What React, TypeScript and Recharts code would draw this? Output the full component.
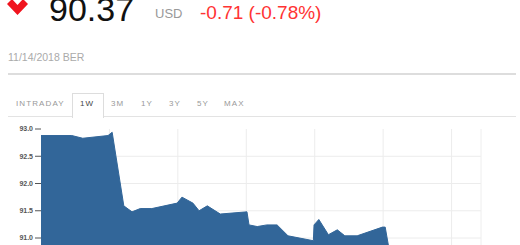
import { AreaChart, Area, XAxis, YAxis, CartesianGrid } from 'recharts';

// position in trading days (gridlines at day boundaries) and price
const days = [0, 0.45, 0.61, 0.98, 1.04, 1.21, 1.33, 1.45, 1.62, 1.99, 2.06, 2.22, 2.31, 2.43, 2.62, 3.01, 3.04, 3.16, 3.3, 3.45, 3.61, 3.98, 3.99, 4.06, 4.2, 4.33, 4.44, 4.62, 4.99, 5.03, 5.1, 5.4, 5.8, 6.1, 6.43]
const prices = [92.88, 92.88, 92.83, 92.88, 92.94, 91.59, 91.48, 91.54, 91.54, 91.64, 91.75, 91.64, 91.5, 91.59, 91.44, 91.48, 91.24, 91.21, 91.24, 91.24, 91.04, 90.95, 91.24, 91.34, 91.06, 91.15, 91.04, 91.04, 91.2, 91.2, 90.7, 90.55, 90.5, 90.45, 90.37]

const priceTicks = [93, 92.5, 92, 91.5, 91, 90.5, 90]
const gridPrices = [92.5, 92, 91.5, 91, 90.5]
const dayLines = [1, 2, 3, 4, 5, 6]
const pctTicks = [0, -2]
const basePrice = 92.91

const tabs = ['INTRADAY', '1W', '3M', '1Y', '3Y', '5Y', 'MAX']
const tabLeft = [16, 80, 111, 141, 169, 197, 224]

const data = days.map((d, i) => ({ day: d, price: prices[i] }))

const App = () => {
    return (
        <div style={{ position: 'absolute', left: 0, top: 0, width: 520, height: 245, overflow: 'hidden', background: '#fff', fontFamily: '"Liberation Sans", Arial, sans-serif' }}>
            <svg width={30} height={16} style={{ position: 'absolute', left: 0, top: 0 }}>
                <polygon points="7,4 12,-1 17.5,5 23,-1 28,4 17.5,15" fill="#f0141e" />
            </svg>
            <div style={{ position: 'absolute', left: 49, top: -11, fontSize: 34, color: '#111', lineHeight: '40px' }}>90.37</div>
            <div style={{ position: 'absolute', left: 155, top: 6, fontSize: 13, color: '#999', lineHeight: '16px' }}>USD</div>
            <div style={{ position: 'absolute', left: 200, top: 2, fontSize: 19, color: '#f33', lineHeight: '22px' }}>-0.71 (-0.78%)</div>
            <div style={{ position: 'absolute', left: 8, top: 51, fontSize: 10.5, color: '#aaa', lineHeight: '13px' }}>11/14/2018 BER</div>
            <div style={{ position: 'absolute', left: 8, top: 73, width: 508, height: 2, background: '#ddd' }} />

            <div style={{ position: 'absolute', left: 8, top: 116, width: 508, height: 1, background: '#e3e3e3' }} />
            <div style={{ position: 'absolute', left: 72, top: 93, width: 30, height: 24, border: '1px solid #ddd', borderBottom: 'none', background: '#fff' }} />
            {tabs.map((t, i) => (
                <div key={t} style={{ position: 'absolute', left: tabLeft[i], top: 98, fontSize: 8, letterSpacing: 1.1, lineHeight: '11px', color: t === '1W' ? '#444' : '#999' }}>{t}</div>
            ))}

            <div style={{ position: 'absolute', left: 0, top: 119 }}>
                <AreaChart width={520} height={200} data={data} margin={{ top: 10, right: 0, left: 0, bottom: 26.5 }}>
                    <XAxis dataKey="day" type="number" domain={[0, 6.43]} ticks={dayLines} hide />
                    <YAxis yAxisId="price" orientation="left" width={41} domain={[90, 93]} ticks={priceTicks} tickFormatter={(v: number) => v.toFixed(1)}
                        axisLine={false} tickLine={{ stroke: '#555' }} tickSize={6} tick={{ fontSize: 7, fill: '#555', fontWeight: 'bold' }} interval={0} />
                    <YAxis yAxisId="pct" orientation="right" width={39} domain={[(90 / basePrice - 1) * 100, (93 / basePrice - 1) * 100]} ticks={pctTicks}
                        tickFormatter={(v: number) => `${v}%`} axisLine={{ stroke: '#eee' }} tickLine={{ stroke: '#555' }} tickSize={5}
                        tick={{ fontSize: 7, fill: '#555' }} interval={0} />
                    <CartesianGrid yAxisId="price" stroke="#ececec" horizontalValues={gridPrices} verticalValues={dayLines} />
                    <Area yAxisId="price" type="linear" dataKey="price" stroke="#326699" strokeWidth={1} fill="#326699" fillOpacity={1} isAnimationActive={false} />
                </AreaChart>
            </div>
        </div>
    )
}

export default App
